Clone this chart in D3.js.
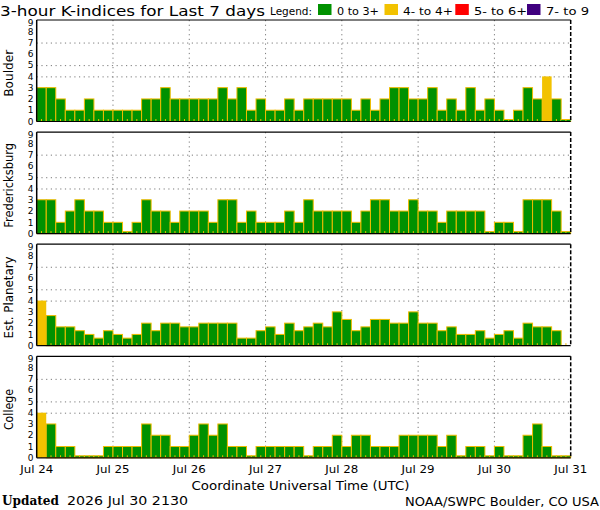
<!DOCTYPE html>
<html><head><meta charset="utf-8">
<script src="https://cdn.jsdelivr.net/npm/d3@7"></script>
<style>body{margin:0;background:#fff}svg{display:block}</style>
</head><body>
<svg id="c" width="600" height="510"></svg>
<script>
// ---- data ----
const stations = ["Boulder", "Fredericksburg", "Est. Planetary", "College"];
const boulder = [3,3,2,1,1,2,1,1, 1,1,1,2,2,3,2,2, 2,2,2,3,2,3,1,2, 1,1,2,1,2,2,2,2, 2,1,2,1,2,3,3,2, 2,3,1,2,1,3,1,2, 1,0,1,3,2,4,2,0];
const fredericksburg = [3,3,1,2,3,2,2,1, 1,0,1,3,2,2,1,2, 2,2,1,3,3,1,2,1, 1,1,2,1,3,2,2,2, 2,1,2,3,3,2,2,3, 2,2,1,2,2,2,2,0, 1,1,0,3,3,3,2,0];
const planetary = [4,2.67,1.67,1.67,1.33,1,0.67,1.33, 1,0.67,1,2,1.33,2,2,1.67, 1.67,2,2,2,2,0.67,0.67,1.33, 1.67,1,2,1.33,1.67,2,1.67,3, 2.33,1.33,1.67,2.33,2.33,2,2,3, 2,2,1.33,1.67,1,1,1.33,0.67, 1,1.33,0.67,2,1.67,1.67,1.33,null];
const college = [4,3,1,1,0,0,0,1, 1,1,1,3,2,2,1,1, 2,3,2,3,1,1,0,1, 1,1,1,1,0,1,1,2, 1,2,2,1,1,1,2,2, 2,2,1,2,0,1,1,0, 1,0,0,2,3,1,0,0];
const series = [boulder, fredericksburg, planetary, college];
const dayLabels = ["Jul 24","Jul 25","Jul 26","Jul 27","Jul 28","Jul 29","Jul 30","Jul 31"];
const yTicks = [0,1,2,3,4,5,6,7,8,9];
const gridLevels = [4,5,7];
const legendLabels = ["0 to 3+","4- to 4+","5- to 6+","7- to 9"];
const legendColors = ["#009100","#f2c200","#ff0000","#3f007f"];
const stationLabelLen = [47, 85, 82, 41];

// ---- layout ----
const svg = d3.select("#c");
const left = 36.7, right = 570.7;
const panelTop0 = 20, panelStep = 112.1, panelH = 101.5;
const HOUR3 = 3 * 3600 * 1000;
const t0 = new Date(Date.UTC(2026, 6, 24));
const t1 = new Date(Date.UTC(2026, 6, 31));
const x = d3.scaleUtc().domain([t0, t1]).range([left, right]);
const days = d3.utcDay.range(t0, d3.utcDay.offset(t1, 1));
const fmt = d3.utcFormat("%b %d");
const barStroke = "#f0bc00";
const gridColor = "#7a7a7a";

function colorFor(v) {
  if (v >= 6.5) return legendColors[3];
  if (v >= 4.5) return legendColors[2];
  if (v >= 3.5) return legendColors[1];
  return legendColors[0];
}

// title + legend
svg.append("text").attr("x", 0).attr("y", 15.5)
  .attr("font-family", "DejaVu Sans").attr("font-size", 14)
  .attr("textLength", 265).attr("lengthAdjust", "spacingAndGlyphs")
  .text("3-hour K-indices for Last 7 days");
svg.append("text").attr("x", 270).attr("y", 15)
  .attr("font-family", "DejaVu Sans").attr("font-size", 11)
  .attr("textLength", 42).attr("lengthAdjust", "spacingAndGlyphs")
  .text("Legend:");
const legX = [318, 384.5, 455.3, 527];
const legTX = [337, 403, 474, 546];
const legTL = [42, 50, 53, 43];
legendLabels.forEach((l, i) => {
  svg.append("rect").attr("x", legX[i]).attr("y", 4).attr("width", 13.5).attr("height", 11)
    .attr("fill", legendColors[i]);
  svg.append("text").attr("x", legTX[i]).attr("y", 15)
    .attr("font-family", "DejaVu Sans").attr("font-size", 11)
    .attr("textLength", legTL[i]).attr("lengthAdjust", "spacingAndGlyphs")
    .text(l);
});

series.forEach((vals, p) => {
  const top = panelTop0 + p * panelStep, bottom = top + panelH;
  const y = d3.scaleLinear().domain([0, 9]).range([bottom, top]);
  const g = svg.append("g");

  // gridlines
  g.selectAll(".hg").data(gridLevels).join("line")
    .attr("x1", left).attr("x2", right)
    .attr("y1", d => y(d) + 0.5).attr("y2", d => y(d) + 0.5)
    .attr("stroke", gridColor).attr("stroke-width", 1).attr("stroke-dasharray", "1.2,3.5");
  g.selectAll(".vg").data(days.slice(1, -1)).join("line")
    .attr("x1", d => x(d)).attr("x2", d => x(d))
    .attr("y1", top).attr("y2", bottom)
    .attr("stroke", gridColor).attr("stroke-width", 1).attr("stroke-dasharray", "1.2,3.5");

  // bars
  const bars = vals.map((v, i) => ({ v, t: new Date(t0.getTime() + i * HOUR3) }));
  g.selectAll(".bar").data(bars.filter(d => d.v !== null)).join("rect")
    .attr("x", d => x(d.t))
    .attr("width", d => x(new Date(d.t.getTime() + HOUR3)) - x(d.t))
    .attr("y", d => Math.min(y(d.v), bottom - 2))
    .attr("height", d => Math.max(bottom - y(d.v), 2))
    .attr("fill", d => colorFor(d.v))
    .attr("stroke", d => d.v >= 3.5 ? "none" : barStroke)
    .attr("stroke-width", 1);

  // 3-hour ticks at bottom
  g.selectAll(".tk").data(bars).join("line")
    .attr("x1", d => x(new Date(d.t.getTime() + HOUR3 / 2)))
    .attr("x2", d => x(new Date(d.t.getTime() + HOUR3 / 2)))
    .attr("y1", bottom).attr("y2", bottom - 2.5)
    .attr("stroke", barStroke).attr("stroke-width", 1);

  // frame
  g.append("line").attr("x1", left).attr("x2", right).attr("y1", top).attr("y2", top)
    .attr("stroke", "#000").attr("stroke-width", 1.2);
  g.append("line").attr("x1", left).attr("x2", right).attr("y1", bottom).attr("y2", bottom)
    .attr("stroke", "#000").attr("stroke-width", 1.2);
  g.append("line").attr("x1", left).attr("x2", left).attr("y1", top).attr("y2", bottom)
    .attr("stroke", "#000").attr("stroke-width", 1.5);
  g.append("line").attr("x1", right).attr("x2", right).attr("y1", top).attr("y2", bottom)
    .attr("stroke", "#000").attr("stroke-width", 1.5).attr("stroke-dasharray", "4,2");

  // y labels
  g.selectAll(".yl").data(yTicks).join("text")
    .attr("x", 33.5)
    .attr("y", d => Math.max(y(d), top + 2.5))
    .attr("dy", "0.36em")
    .attr("text-anchor", "end")
    .attr("font-family", "DejaVu Sans").attr("font-size", 9)
    .text(d => d);

  // station label
  const cy = (top + bottom) / 2 + 2.5;
  svg.append("text")
    .attr("transform", `translate(13,${cy}) rotate(-90)`)
    .attr("text-anchor", "middle")
    .attr("font-family", "DejaVu Sans").attr("font-size", 13)
    .attr("textLength", stationLabelLen[p]).attr("lengthAdjust", "spacingAndGlyphs")
    .text(stations[p]);
});

// x labels
svg.selectAll(".xl").data(days).join("text")
  .attr("x", d => x(d)).attr("y", 473.3)
  .attr("text-anchor", "middle")
  .attr("font-family", "DejaVu Sans").attr("font-size", 11)
  .attr("textLength", 33).attr("lengthAdjust", "spacingAndGlyphs")
  .text((d, i) => dayLabels[i] || fmt(d));

svg.append("text").attr("x", 300.5).attr("y", 489.5).attr("text-anchor", "middle")
  .attr("font-family", "DejaVu Sans").attr("font-size", 13)
  .attr("textLength", 218).attr("lengthAdjust", "spacingAndGlyphs")
  .text("Coordinate Universal Time (UTC)");
svg.append("text").attr("x", 2).attr("y", 505)
  .attr("font-family", "DejaVu Serif").attr("font-weight", "bold").attr("font-size", 13)
  .attr("textLength", 57).attr("lengthAdjust", "spacingAndGlyphs")
  .text("Updated");
svg.append("text").attr("x", 67).attr("y", 505)
  .attr("font-family", "DejaVu Sans").attr("font-size", 13)
  .attr("textLength", 121).attr("lengthAdjust", "spacingAndGlyphs")
  .text("2026 Jul 30 2130");
svg.append("text").attr("x", 405).attr("y", 505.5)
  .attr("font-family", "DejaVu Sans").attr("font-size", 13)
  .attr("textLength", 194).attr("lengthAdjust", "spacingAndGlyphs")
  .text("NOAA/SWPC Boulder, CO USA");
</script>
</body></html>
